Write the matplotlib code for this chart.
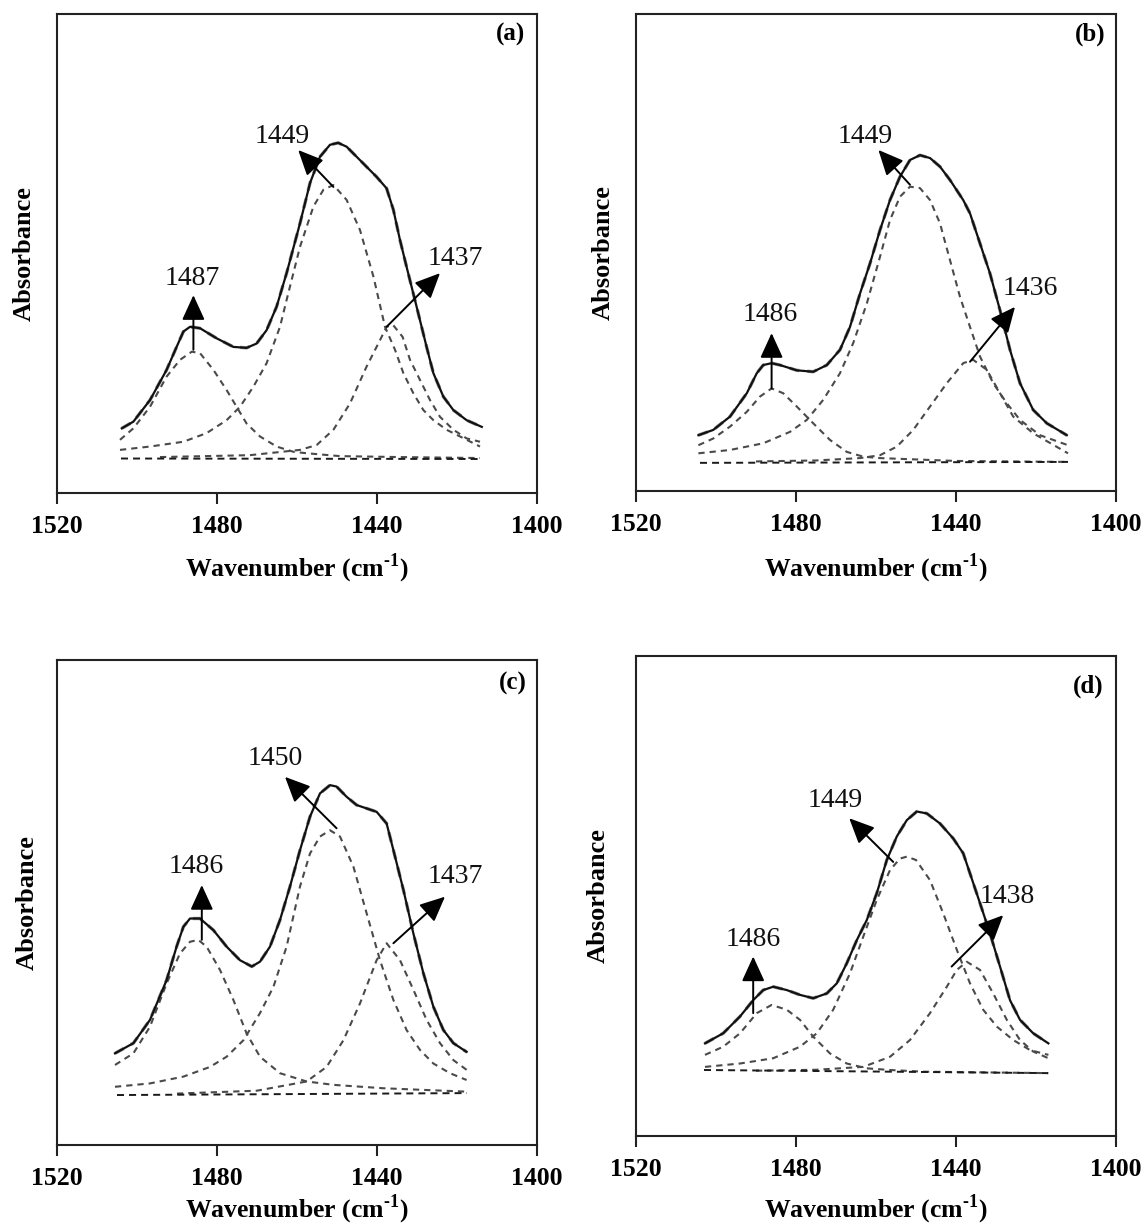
import matplotlib
matplotlib.use('Agg')
import matplotlib.pyplot as plt

plt.rcParams['font.family'] = ['Liberation Serif', 'DejaVu Serif']
plt.rcParams['mathtext.fontset'] = 'custom'
plt.rcParams['mathtext.rm'] = 'Liberation Serif:bold'
plt.rcParams['mathtext.bf'] = 'Liberation Serif:bold'

X_TICKS = [1520, 1480, 1440, 1400]
PANEL_TAGS = ['(a)', '(b)', '(c)', '(d)']

# ---------------- panel (a) ----------------
A_MEAS_WN = [1503.8, 1500.9, 1496.75, 1492.6, 1490.1, 1488.4, 1486.75, 1484.25, 1480.1, 1475.9,
             1472.6, 1470.1, 1467.6, 1465.1, 1462.6, 1459.25, 1456.75, 1454.25, 1451.75, 1449.7,
             1447.6, 1445.1, 1442.6, 1440.1, 1437.6, 1435.9, 1434.25, 1432.6, 1430.1, 1427.6,
             1425.9, 1423.4, 1420.9, 1417.6, 1413.8]
A_MEAS_ABS = [0.135, 0.149, 0.194, 0.257, 0.305, 0.337, 0.347, 0.344, 0.323, 0.305,
              0.303, 0.312, 0.340, 0.389, 0.459, 0.563, 0.647, 0.702, 0.727, 0.731,
              0.723, 0.702, 0.681, 0.660, 0.636, 0.591, 0.528, 0.472, 0.389, 0.305,
              0.250, 0.201, 0.173, 0.152, 0.138]
A_P1_WN = [1504.25, 1500.9, 1496.75, 1492.6, 1489.25, 1486.3, 1484.25, 1480.9, 1477.6, 1475.1,
           1472.6, 1469.25, 1465.1, 1460.9, 1457.6, 1449.25, 1434.25, 1414.25]
A_P1_ABS = [0.111, 0.135, 0.180, 0.243, 0.278, 0.295, 0.292, 0.257, 0.215, 0.180,
            0.145, 0.118, 0.097, 0.086, 0.083, 0.077, 0.075, 0.073]
A_P2_WN = [1504.25, 1496.75, 1488.4, 1482.6, 1477.6, 1474.25, 1470.9, 1467.6, 1464.25, 1462.6,
           1459.25, 1455.9, 1453.4, 1450.9, 1447.6, 1444.25, 1440.9, 1438.0, 1435.5, 1433.4,
           1430.9, 1428.4, 1425.9, 1422.6, 1419.25, 1414.25]
A_P2_ABS = [0.090, 0.097, 0.107, 0.125, 0.152, 0.180, 0.222, 0.271, 0.347, 0.403,
            0.514, 0.598, 0.633, 0.643, 0.612, 0.549, 0.452, 0.347, 0.299, 0.250,
            0.208, 0.173, 0.152, 0.132, 0.118, 0.097]
A_P3_WN = [1494.25, 1471.75, 1459.25, 1455.1, 1450.9, 1446.75, 1442.6, 1439.25, 1437.6, 1436.0,
           1433.6, 1431.75, 1429.25, 1426.75, 1424.25, 1420.9, 1417.6, 1414.25]
A_P3_ABS = [0.075, 0.079, 0.090, 0.100, 0.132, 0.187, 0.264, 0.319, 0.347, 0.351,
            0.326, 0.278, 0.236, 0.194, 0.159, 0.132, 0.114, 0.107]
A_BASE_WN = [1504.0, 1414.0]
A_BASE_ABS = [0.072, 0.071]
A_PEAK_LABELS = ['1487', '1449', '1437']
A_LABEL_WN = [1486.25, 1463.8, 1420.5]
A_LABEL_ABS = [0.447, 0.745, 0.490]
A_ARROW_TAIL_WN = [1485.9, 1450.9, 1437.6]
A_ARROW_TAIL_ABS = [0.299, 0.639, 0.347]
A_ARROW_TIP_WN = [1485.9, 1459.7, 1424.25]
A_ARROW_TIP_ABS = [0.413, 0.716, 0.459]

# ---------------- panel (b) ----------------
B_MEAS_WN = [1504.4, 1500.7, 1496.5, 1492.3, 1489.8, 1488.2, 1486.1, 1484.0, 1479.8, 1475.7,
             1472.3, 1469.0, 1466.5, 1464.0, 1461.5, 1459.0, 1456.5, 1454.0, 1451.5, 1449.0,
             1446.5, 1444.0, 1441.5, 1438.2, 1436.5, 1434.0, 1431.5, 1429.0, 1426.5, 1424.0,
             1420.7, 1417.3, 1412.3]
B_MEAS_ABS = [0.117, 0.128, 0.156, 0.205, 0.247, 0.264, 0.268, 0.264, 0.253, 0.250,
              0.264, 0.296, 0.344, 0.414, 0.477, 0.547, 0.610, 0.659, 0.694, 0.704,
              0.698, 0.680, 0.652, 0.610, 0.582, 0.519, 0.456, 0.379, 0.296, 0.226,
              0.170, 0.142, 0.117]
B_P1_WN = [1504.4, 1500.7, 1496.5, 1492.3, 1489.0, 1486.1, 1483.2, 1479.8, 1475.7, 1471.5,
           1467.3, 1463.2, 1459.0, 1440.0, 1412.3]
B_P1_ABS = [0.096, 0.110, 0.135, 0.166, 0.198, 0.215, 0.205, 0.177, 0.142, 0.107,
            0.082, 0.072, 0.069, 0.063, 0.061]
B_P2_WN = [1504.4, 1496.5, 1488.2, 1481.5, 1477.3, 1473.2, 1469.0, 1465.7, 1462.3, 1459.0,
           1456.5, 1454.0, 1451.5, 1449.0, 1446.5, 1444.0, 1441.5, 1439.0, 1436.5, 1434.0,
           1430.7, 1427.3, 1424.0, 1419.0, 1412.0]
B_P2_ABS = [0.079, 0.086, 0.100, 0.124, 0.149, 0.191, 0.247, 0.310, 0.393, 0.491,
            0.568, 0.617, 0.638, 0.635, 0.610, 0.561, 0.484, 0.407, 0.344, 0.282,
            0.226, 0.184, 0.149, 0.117, 0.096]
B_P3_WN = [1490.0, 1475.0, 1464.0, 1459.0, 1454.8, 1450.7, 1446.5, 1442.3, 1438.2, 1435.7,
           1432.3, 1429.0, 1425.7, 1420.7, 1412.0]
B_P3_ABS = [0.062, 0.064, 0.069, 0.075, 0.093, 0.128, 0.177, 0.226, 0.268, 0.275,
            0.254, 0.205, 0.156, 0.121, 0.079]
B_BASE_WN = [1504.0, 1412.0]
B_BASE_ABS = [0.059, 0.061]
B_PEAK_LABELS = ['1486', '1449', '1436']
B_LABEL_WN = [1486.5, 1462.75, 1421.5]
B_LABEL_ABS = [0.369, 0.744, 0.425]
B_ARROW_TAIL_WN = [1486.1, 1451.5, 1436.5]
B_ARROW_TAIL_ABS = [0.215, 0.642, 0.271]
B_ARROW_TIP_WN = [1486.1, 1459.4, 1425.25]
B_ARROW_TIP_ABS = [0.331, 0.715, 0.386]

# ---------------- panel (c) ----------------
C_MEAS_WN = [1505.5, 1500.9, 1496.75, 1492.6, 1490.1, 1488.4, 1486.75, 1484.25, 1480.9, 1477.6,
             1474.25, 1471.3, 1469.25, 1466.75, 1464.25, 1461.75, 1459.25, 1456.75, 1454.25, 1451.75,
             1450.1, 1447.6, 1445.1, 1442.6, 1440.1, 1437.6, 1435.9, 1433.4, 1430.9, 1428.4,
             1425.9, 1423.4, 1420.9, 1417.6]
C_MEAS_ABS = [0.189, 0.210, 0.258, 0.340, 0.409, 0.450, 0.467, 0.467, 0.443, 0.409,
              0.381, 0.368, 0.378, 0.409, 0.464, 0.533, 0.608, 0.677, 0.725, 0.742,
              0.739, 0.718, 0.701, 0.694, 0.687, 0.663, 0.608, 0.526, 0.436, 0.354,
              0.285, 0.237, 0.210, 0.192]
C_P1_WN = [1505.5, 1500.9, 1496.75, 1492.6, 1489.25, 1486.75, 1484.7, 1482.6, 1479.25, 1475.9,
           1472.6, 1469.25, 1464.25, 1457.6, 1450.9, 1438.4, 1417.6]
C_P1_ABS = [0.165, 0.189, 0.244, 0.333, 0.395, 0.419, 0.423, 0.409, 0.361, 0.299,
            0.230, 0.182, 0.148, 0.131, 0.124, 0.117, 0.110]
C_P2_WN = [1505.5, 1496.75, 1488.4, 1481.75, 1477.6, 1473.4, 1469.25, 1465.9, 1462.6, 1459.25,
           1456.75, 1454.25, 1451.75, 1449.25, 1445.9, 1442.6, 1439.25, 1435.9, 1432.6, 1429.25,
           1425.9, 1421.75, 1417.6]
C_P2_ABS = [0.120, 0.127, 0.141, 0.161, 0.182, 0.216, 0.272, 0.326, 0.409, 0.533,
            0.601, 0.636, 0.649, 0.636, 0.574, 0.478, 0.381, 0.299, 0.237, 0.196,
            0.168, 0.148, 0.134]
C_P3_WN = [1490.0, 1470.0, 1457.6, 1452.6, 1448.4, 1444.25, 1440.1, 1437.6, 1434.25, 1430.9,
           1427.6, 1424.25, 1420.9, 1417.6]
C_P3_ABS = [0.106, 0.112, 0.131, 0.161, 0.216, 0.292, 0.381, 0.416, 0.381, 0.320,
            0.258, 0.210, 0.175, 0.155]
C_BASE_WN = [1505.0, 1417.5]
C_BASE_ABS = [0.103, 0.107]
C_PEAK_LABELS = ['1486', '1450', '1437']
C_LABEL_WN = [1485.1, 1465.5, 1420.5]
C_LABEL_ABS = [0.574, 0.797, 0.553]
C_ARROW_TAIL_WN = [1483.8, 1450.1, 1435.9]
C_ARROW_TAIL_ABS = [0.423, 0.653, 0.416]
C_ARROW_TIP_WN = [1483.8, 1463.0, 1423.0]
C_ARROW_TIP_ABS = [0.536, 0.759, 0.512]

# ---------------- panel (d) ----------------
D_MEAS_WN = [1502.75, 1498.2, 1494.0, 1490.7, 1488.2, 1485.7, 1482.3, 1479.0, 1475.7, 1472.3,
             1469.8, 1467.3, 1464.8, 1462.3, 1459.8, 1457.3, 1454.8, 1452.3, 1449.8, 1447.3,
             1444.0, 1440.7, 1438.2, 1436.5, 1434.0, 1431.5, 1429.0, 1426.5, 1424.0, 1420.7,
             1416.9]
D_MEAS_ABS = [0.193, 0.214, 0.249, 0.283, 0.304, 0.311, 0.304, 0.294, 0.287, 0.297,
              0.318, 0.360, 0.408, 0.450, 0.506, 0.575, 0.624, 0.658, 0.676, 0.672,
              0.651, 0.620, 0.589, 0.547, 0.485, 0.422, 0.353, 0.283, 0.242, 0.214,
              0.193]
D_P1_WN = [1502.75, 1498.2, 1494.0, 1489.8, 1486.1, 1482.3, 1479.0, 1475.7, 1471.5, 1467.3,
           1462.3, 1456.5, 1448.2, 1416.9]
D_P1_ABS = [0.169, 0.186, 0.214, 0.256, 0.273, 0.263, 0.242, 0.207, 0.172, 0.151,
            0.141, 0.1375, 0.134, 0.131]
D_P2_WN = [1502.75, 1494.0, 1485.7, 1479.0, 1474.8, 1470.7, 1466.5, 1463.2, 1459.8, 1456.5,
           1454.0, 1452.3, 1450.0, 1446.5, 1443.2, 1439.8, 1436.5, 1433.2, 1429.8, 1425.7,
           1421.5, 1416.9]
D_P2_ABS = [0.144, 0.151, 0.162, 0.186, 0.214, 0.263, 0.339, 0.415, 0.492, 0.554,
            0.578, 0.582, 0.575, 0.533, 0.464, 0.388, 0.318, 0.263, 0.228, 0.200,
            0.179, 0.169]
D_P3_WN = [1490.0, 1475.0, 1463.2, 1456.5, 1451.5, 1446.5, 1442.3, 1439.8, 1437.3, 1434.0,
           1430.7, 1427.3, 1424.0, 1420.7, 1416.9]
D_P3_ABS = [0.136, 0.138, 0.144, 0.165, 0.200, 0.256, 0.311, 0.346, 0.363, 0.346,
            0.297, 0.242, 0.200, 0.176, 0.162]
D_BASE_WN = [1503.0, 1417.0]
D_BASE_ABS = [0.1375, 0.131]
D_PEAK_LABELS = ['1486', '1449', '1438']
D_LABEL_WN = [1490.7, 1470.25, 1427.3]
D_LABEL_ABS = [0.410, 0.699, 0.499]
D_ARROW_TAIL_WN = [1490.7, 1455.7, 1441.1]
D_ARROW_TAIL_ABS = [0.256, 0.571, 0.353]
D_ARROW_TIP_WN = [1490.7, 1466.7, 1428.2]
D_ARROW_TIP_ABS = [0.374, 0.662, 0.460]

PANELS = [
    dict(meas=(A_MEAS_WN, A_MEAS_ABS), peaks=[(A_P1_WN, A_P1_ABS), (A_P2_WN, A_P2_ABS), (A_P3_WN, A_P3_ABS)],
         base=(A_BASE_WN, A_BASE_ABS), labels=A_PEAK_LABELS, lab=(A_LABEL_WN, A_LABEL_ABS),
         tail=(A_ARROW_TAIL_WN, A_ARROW_TAIL_ABS), tip=(A_ARROW_TIP_WN, A_ARROW_TIP_ABS)),
    dict(meas=(B_MEAS_WN, B_MEAS_ABS), peaks=[(B_P1_WN, B_P1_ABS), (B_P2_WN, B_P2_ABS), (B_P3_WN, B_P3_ABS)],
         base=(B_BASE_WN, B_BASE_ABS), labels=B_PEAK_LABELS, lab=(B_LABEL_WN, B_LABEL_ABS),
         tail=(B_ARROW_TAIL_WN, B_ARROW_TAIL_ABS), tip=(B_ARROW_TIP_WN, B_ARROW_TIP_ABS)),
    dict(meas=(C_MEAS_WN, C_MEAS_ABS), peaks=[(C_P1_WN, C_P1_ABS), (C_P2_WN, C_P2_ABS), (C_P3_WN, C_P3_ABS)],
         base=(C_BASE_WN, C_BASE_ABS), labels=C_PEAK_LABELS, lab=(C_LABEL_WN, C_LABEL_ABS),
         tail=(C_ARROW_TAIL_WN, C_ARROW_TAIL_ABS), tip=(C_ARROW_TIP_WN, C_ARROW_TIP_ABS)),
    dict(meas=(D_MEAS_WN, D_MEAS_ABS), peaks=[(D_P1_WN, D_P1_ABS), (D_P2_WN, D_P2_ABS), (D_P3_WN, D_P3_ABS)],
         base=(D_BASE_WN, D_BASE_ABS), labels=D_PEAK_LABELS, lab=(D_LABEL_WN, D_LABEL_ABS),
         tail=(D_ARROW_TAIL_WN, D_ARROW_TAIL_ABS), tip=(D_ARROW_TIP_WN, D_ARROW_TIP_ABS)),
]

W, H = 1146, 1227
fig = plt.figure(figsize=(W / 100, H / 100), dpi=100)

# axes boxes in pixels: left, top, right, bottom
BOXES = [(57, 14, 537, 493), (636, 14, 1116, 491), (57, 660, 537, 1145), (636, 656, 1116, 1136)]
XLAB_OFF = [75, 77, 64, 73]
YLAB_X = [24, 603, 27, 598]
TAG_XY = [(525, 34), (1105, 34), (527, 683), (1103, 686)]

for i, (p, box) in enumerate(zip(PANELS, BOXES)):
    l, t, r, b = box
    ax = fig.add_axes([l / W, 1 - b / H, (r - l) / W, (b - t) / H])
    ax.set_xlim(1520, 1400)
    ax.set_ylim(0, 1)
    for s in ax.spines.values():
        s.set_linewidth(1.5)
        s.set_color('#222222')
    ax.set_yticks([])
    ax.set_xticks(X_TICKS)
    ax.tick_params(axis='x', direction='out', length=8, width=1.5, pad=8,
                   labelsize=18.5, color='#222222')
    for lb in ax.get_xticklabels():
        lb.set_fontweight('bold')

    dash = (0, (3.0, 2.4))
    # fitted envelope (gray dashed, hugging measured curve)
    ax.plot(p['meas'][0], p['meas'][1], color='#8a8a8a', lw=2.4, ls=dash, zorder=2)
    for wn, ab in p['peaks']:
        ax.plot(wn, ab, color='#4a4a4a', lw=1.5, ls=dash, zorder=2)
    ax.plot(p['base'][0], p['base'][1], color='#1a1a1a', lw=1.4, ls=(0, (3.6, 2.6)), zorder=2)
    ax.plot(p['meas'][0], p['meas'][1], color='#111111', lw=1.6, zorder=3,
            solid_joinstyle='round')

    for k in range(3):
        ax.annotate('', xy=(p['tip'][0][k], p['tip'][1][k]),
                    xytext=(p['tail'][0][k], p['tail'][1][k]),
                    arrowprops=dict(arrowstyle='-|>,head_length=0.7,head_width=0.32',
                                    color='black', lw=1.4, mutation_scale=22,
                                    shrinkA=0, shrinkB=0), zorder=4)
        ax.text(p['lab'][0][k], p['lab'][1][k], p['labels'][k], ha='center', va='center',
                fontsize=20, color='#111111', zorder=5)

    tx, ty = TAG_XY[i]
    ax.text((tx - l) / (r - l), (b - ty) / (b - t), PANEL_TAGS[i],
            transform=ax.transAxes, ha='right', va='center', fontsize=18, fontweight='bold')
    ax.set_ylabel('Absorbance', fontsize=19, fontweight='bold')
    ax.yaxis.set_label_coords(-(l - YLAB_X[i]) / (r - l), 0.5)
    ax.yaxis.label.set_va('center')
    ax.set_xlabel(r'Wavenumber (cm$^{\text{-1}}$)', fontsize=18.5, fontweight='bold')
    ax.xaxis.set_label_coords(0.5, -XLAB_OFF[i] / (b - t))
    ax.xaxis.label.set_va('center')

fig.savefig('out.png', dpi=100)
